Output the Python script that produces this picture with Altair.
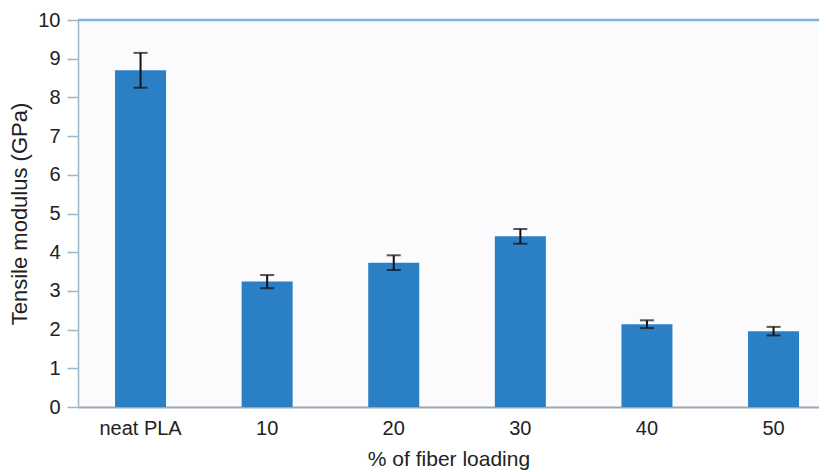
import altair as alt
import pandas as pd

categories = ["neat PLA", "10", "20", "30", "40", "50"]
modulus = [8.70, 3.24, 3.73, 4.41, 2.14, 1.96]
errors = [0.45, 0.17, 0.19, 0.19, 0.10, 0.11]
y_ticks = [0, 1, 2, 3, 4, 5, 6, 7, 8, 9, 10]

df = pd.DataFrame({"cat": categories, "val": modulus, "err": errors})
df["lo"] = df["val"] - df["err"]
df["hi"] = df["val"] + df["err"]

FONT = "Liberation Sans"

xaxis = alt.Axis(title="% of fiber loading", labelAngle=0, ticks=False,
                 labelPadding=11, titlePadding=10, titleFontSize=21,
                 domainColor="#9aa8b0", domainWidth=2)
xscale = alt.Scale(paddingInner=0.597, paddingOuter=0.225, align=0.65)
yscale = alt.Scale(domain=[0, 10], nice=False)
yaxis = alt.Axis(title="Tensile modulus (GPa)", values=y_ticks, tickCount=20,
                 format="d", labelOverlap=False, grid=False, tickSize=11,
                 tickColor="#9bb7cc", tickWidth=1.5,
                 domainColor="#9bb7cc", domainWidth=1.5, labelPadding=7,
                 titlePadding=6, titleFontSize=22)


def X():
    return alt.X("cat:N", sort=categories, scale=xscale, axis=xaxis)


def Y(field):
    return alt.Y(field, scale=yscale, axis=yaxis)


base = alt.Chart(df)
bars = base.mark_bar(color="#2b80c5").encode(x=X(), y=Y("val:Q"))
rules = base.mark_rule(color="#111111", strokeWidth=2).encode(
    x=X(), y=Y("lo:Q"), y2="hi:Q")
cap_lo = base.mark_tick(color="#111111", thickness=2, size=14).encode(
    x=X(), y=Y("lo:Q"))
cap_hi = base.mark_tick(color="#111111", thickness=2, size=14).encode(
    x=X(), y=Y("hi:Q"))
top = alt.Chart(pd.DataFrame({"v": [10]})).mark_rule(
    color="#7fb3e0", strokeWidth=2.5).encode(y=Y("v:Q"))

chart = alt.layer(bars, rules, cap_lo, cap_hi, top).properties(
    width=741, height=387,
    autosize=alt.AutoSizeParams(type="none"),
    padding={"left": 70, "top": 12, "right": 0, "bottom": 64},
    background="white",
).configure_view(stroke=None, fill="#fbfbfd").configure_axis(
    labelFont=FONT, titleFont=FONT, labelFontSize=20,
    labelColor="#222222", titleColor="#222222", titleFontWeight="normal"
)

chart.save("out.html", embed_options={"renderer": "svg", "actions": False})
